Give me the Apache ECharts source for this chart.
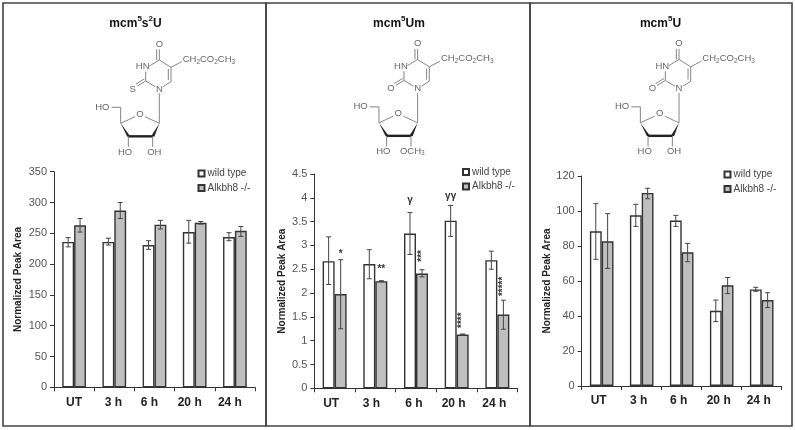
<!DOCTYPE html>
<html><head><meta charset="utf-8">
<style>html,body{margin:0;padding:0;background:#fff}#c{width:795px;height:430px}</style>
<script src="https://cdn.jsdelivr.net/npm/echarts@6/dist/echarts.min.js"></script>
</head><body><div id="c"></div>
<script>
const categories = ['UT','3 h','6 h','20 h','24 h'];
const seriesNames = ['wild type','Alkbh8 -/-'];

const p1Wild = [236,236,231,252,244];
const p1Alk  = [263,287,264,267,254];
const p1WildHi = [243,242,238,271,251];
const p1WildLo = [228,231,224,234,238];
const p1AlkHi  = [274,300,271,269,261];
const p1AlkLo  = [252,274,257,265,245];

const p2Wild = [2.67,2.61,3.25,3.52,2.69];
const p2Alk  = [1.98,2.25,2.41,1.13,1.55];
const p2WildHi = [3.18,2.91,3.69,3.84,2.88];
const p2WildLo = [2.18,2.30,2.81,3.19,2.50];
const p2AlkHi  = [2.70,2.26,2.49,1.14,1.85];
const p2AlkLo  = [1.25,2.24,2.34,1.12,1.24];

const p3Wild = [88.4,97.5,94.5,43,55.2];
const p3Alk  = [82.7,110.3,76.4,57.5,49.1];
const p3WildHi = [104.2,103.8,97.5,49.1,56.4];
const p3WildLo = [72.4,91.2,91.2,36.8,54.1];
const p3AlkHi  = [98.5,113,81.5,62,53.3];
const p3AlkLo  = [67.2,107,71,52.8,44.8];

// panel 2 significance marks: [category, value, side (0 wild, 1 Alkbh8), text, vertical]
const p2Marks = [
  [0,2.82,1,'*',0],[1,2.49,1,'**',0],[2,2.78,1,'***',1],[3,1.43,1,'****',1],[4,2.14,1,'*****',1],
  [2,3.94,0,'γ',0],[3,4.04,0,'γγ',0]
];

const SANS = '"Liberation Sans", Arial, sans-serif';
const panels = [
  {grid:{left:54,top:171.7,width:201,height:215.6}, max:350, interval:50, wild:p1Wild, alk:p1Alk, wh:p1WildHi, wl:p1WildLo, ah:p1AlkHi, al:p1AlkLo,
   title:'mcm{s|5}s{s|2}U', tx:135.5, ly:168.5, lx:197.5, name:31, shift:[0,1,5,5,5]},
  {grid:{left:314.3,top:174,width:203.4,height:214.3}, max:4.5, interval:0.5, wild:p2Wild, alk:p2Alk, wh:p2WildHi, wl:p2WildLo, ah:p2AlkHi, al:p2AlkLo,
   title:'mcm{s|5}Um', tx:399, ly:167, lx:462, name:27, shift:[3.5,4,2,3,3]},
  {grid:{left:581.7,top:176,width:200,height:210}, max:120, interval:20, wild:p3Wild, alk:p3Alk, wh:p3WildHi, wl:p3WildLo, ah:p3AlkHi, al:p3AlkLo,
   title:'mcm{s|5}U', tx:660.5, ly:169.5, lx:723.5, name:26, shift:[3,3,3,3,3]}
];

const option = {animation:false, backgroundColor:'#fff', grid:[], xAxis:[], yAxis:[], series:[], title:[], legend:[], graphic:[]};

function errorBars(idx, side, hi, lo){
  return {
    type:'custom', xAxisIndex:idx, yAxisIndex:idx, silent:true, z:5,
    data: hi.map((h,i)=>[i,h,lo[i]]),
    encode:{x:0,y:[1,2]},
    renderItem(params,api){
      const band = api.size([1,0])[0];
      const off = (side===0?-1:1)*band*0.148;
      const a = api.coord([api.value(0),api.value(1)]);
      const b = api.coord([api.value(0),api.value(2)]);
      const x = a[0]+off, cap = 2.5;
      const st = {stroke:'#444',lineWidth:1,fill:null};
      return {type:'group',children:[
        {type:'line',shape:{x1:x,y1:a[1],x2:x,y2:b[1]},style:st},
        {type:'line',shape:{x1:x-cap,y1:a[1],x2:x+cap,y2:a[1]},style:st},
        {type:'line',shape:{x1:x-cap,y1:b[1],x2:x+cap,y2:b[1]},style:st}
      ]};
    }
  };
}

panels.forEach((p,i)=>{
  option.grid.push(p.grid);
  option.xAxis.push({type:'category',gridIndex:i,
    data:categories.map((c,k)=>({value:c,textStyle:{padding:[0,p.shift[k]*2,0,0]}})),
    axisLine:{lineStyle:{color:'#333',width:1}},
    axisTick:{show:true,alignWithLabel:false,length:4,inside:false,lineStyle:{color:'#333'}},
    axisLabel:{fontFamily:SANS,fontWeight:'bold',fontSize:12,color:'#222',margin:9},
    splitLine:{show:false}});
  option.yAxis.push({type:'value',gridIndex:i,min:0,max:p.max,interval:p.interval,
    name:'Normalized Peak Area',nameLocation:'middle',nameGap:p.name,nameRotate:90,
    nameTextStyle:{fontFamily:SANS,fontWeight:'bold',fontSize:10,color:'#222'},
    axisLine:{show:true,lineStyle:{color:'#333',width:1}},
    axisTick:{show:true,length:4,lineStyle:{color:'#333'}},
    axisLabel:{fontFamily:SANS,fontSize:11,color:'#555',margin:7},
    splitLine:{show:false}});
  const bar = (name,data,fill)=>({name,type:'bar',xAxisIndex:i,yAxisIndex:i,data,barGap:'0%',barWidth:'29.5%',
    itemStyle:{color:fill,borderColor:'#333',borderWidth:1.4}});
  option.series.push(bar(seriesNames[0],p.wild,'#ffffff'), bar(seriesNames[1],p.alk,'#bfbfbf'));
  option.series.push(errorBars(i,0,p.wh,p.wl), errorBars(i,1,p.ah,p.al));
  option.title.push({text:p.title,left:p.tx,top:15,padding:0,textAlign:'center',
    textStyle:{fontFamily:SANS,fontWeight:'bold',fontSize:12,color:'#111',lineHeight:18,
      rich:{s:{fontFamily:SANS,fontWeight:'bold',fontSize:8,color:'#111',lineHeight:9,verticalAlign:'top'}}}});
  option.legend.push({orient:'vertical',left:p.lx,top:p.ly,itemWidth:6,itemHeight:6,itemGap:4.6,padding:0,
    data:seriesNames,selectedMode:false,icon:'rect',
    textStyle:{fontFamily:SANS,fontSize:10,color:'#444',padding:[0,0,0,-2]}});
});

option.series.push({
  type:'custom',xAxisIndex:1,yAxisIndex:1,silent:true,z:6,
  data:p2Marks,
  renderItem(params,api){
    const m = p2Marks[params.dataIndex];
    const band = api.size([1,0])[0];
    const c = api.coord([m[0],m[1]]);
    return {type:'text',x:c[0]+(m[2]?1:-1)*band*0.148,y:c[1],rotation:m[4]?Math.PI/2:0,
      style:{text:m[3],fontFamily:SANS,fontWeight:'bold',fontSize:10,fill:'#333',align:'center',verticalAlign:'middle'}};
  }
});

// frame
const frame = {stroke:'#444',lineWidth:1.6,fill:null};
[[3,3,263,423],[266,3,264,423],[530,3,262,423]].forEach(r=>{
  option.graphic.push({type:'rect',silent:true,z:0,shape:{x:r[0],y:r[1],width:r[2],height:r[3]},style:frame});
});

// chemical structures
function structure(dx,dy,variant){
  const P = (x,y)=>[dx+x/3,dy+y/3];
  const col='#777';
  const sub = {b:{fontFamily:SANS,fontSize:6.5,fill:'#666',padding:[5,0,0,0]}};
  const add = e=>option.graphic.push(Object.assign({silent:true,z:1},e));
  const L=(a,b,w,c)=>{const s=P(a[0],a[1]),t=P(b[0],b[1]);add({type:'line',shape:{x1:s[0],y1:s[1],x2:t[0],y2:t[1]},style:{stroke:c||col,lineWidth:w||0.9}});};
  const T=(x,y,t,al,rich)=>{const q=P(x,y);add({type:'text',x:q[0],y:q[1],style:{text:t,fontFamily:SANS,fontSize:9.5,fill:'#666',align:al||'center',verticalAlign:'middle',rich:rich||undefined}});};
  const W=(pts,fill)=>add({type:'polygon',shape:{points:pts.map(a=>P(a[0],a[1]))},style:{fill:fill||'#222'}});
  // base ring
  L([478,180],[478,148]);L([470,180],[470,148]);
  L([478,180],[513,202]);
  L([513,202],[513,245]);L([505,207],[505,240]);
  L([513,245],[490,260]);
  L([466,260],[437,243]);
  L([437,243],[437,215]);
  L([448,198],[478,180]);
  L([437,243],[412,258]);L([433,237],[408,252]);
  L([513,202],[545,185]);
  T(478,132,'O');T(428,200,'HN');T(478,268,'N');T(398,268,variant==='s'?'S':'O');
  T(548,178,'CH{b|2}CO{b|2}CH{b|3}','left',sub);
  // sugar
  L([478,280],[478,370]);
  L([478,370],[435,350]);L([405,350],[362,370]);
  T(420,342,'O');
  L([362,370],[362,322]);L([362,322],[335,322]);T(307,322,'HO');
  W([[362,370],[382,410],[390,408]]);
  W([[478,370],[454,408],[463,410]]);
  L([385,409],[458,409],2.4,'#222');
  L([385,410],[385,441]);L([458,410],[458,441]);
  T(375,457,'HO');
  if(variant==='ome'){T(462,455,'OCH{b|3}','center',sub);}
  else T(463,457,'OH');
}
structure(0,0,'s');
structure(258.3,-0.5,'ome');
structure(519.7,-0.5,'oh');

const chart = echarts.init(document.getElementById('c'),null,{renderer:'canvas'});
chart.setOption(option);
</script></body></html>
